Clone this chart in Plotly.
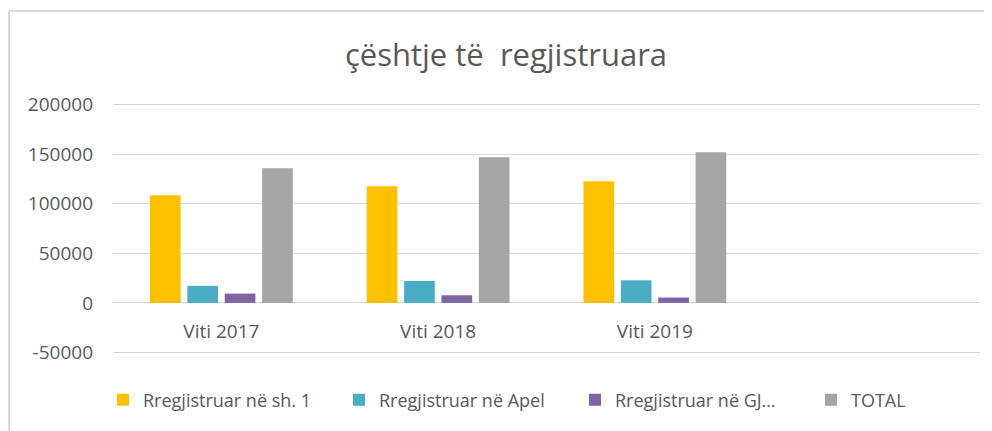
import plotly.graph_objects as go

categories = ["Viti 2017", "Viti 2018", "Viti 2019"]
series_names = ["Rregjistruar në sh. 1", "Rregjistruar në Apel", "Rregjistruar në GJ…", "TOTAL"]
sh1 = [108500, 117500, 122700]
apel = [17200, 22100, 22800]
gjl = [9400, 7700, 5400]
total = [135800, 146900, 151900]
colors = ["#FFC000", "#4BACC6", "#8064A2", "#A5A5A5"]
y_ticks = [-50000, 0, 50000, 100000, 150000, 200000]
y_tick_labels = ["-50000", "0", "50000", "100000", "150000", "200000"]
y_range = [-51500, 201500]

FONT = "'Open Sans', Lato, sans-serif"
TXT = "#595959"

W, H = 992, 431
ML, MR, MT, MB = 105, 20, 95, 85
PW, PH = W - ML - MR, H - MT - MB

fig = go.Figure()
for name, vals, col in zip(series_names, [sh1, apel, gjl, total], colors):
    fig.add_trace(go.Bar(x=categories, y=vals, name=name, marker=dict(color=col, line=dict(width=0))))

fig.update_layout(
    width=W, height=H,
    margin=dict(l=ML, r=MR, t=MT, b=MB, autoexpand=False),
    paper_bgcolor="white", plot_bgcolor="white",
    barmode="group", bargap=0.31, bargroupgap=0.18,
    font=dict(family=FONT, color=TXT, size=16),
    title=dict(text="çështje të\u00a0 regjistruara", x=498/W, xref="container", xanchor="center",
               y=1-47/H, yref="container", yanchor="middle",
               font=dict(family=FONT, size=31, color=TXT)),
    legend=dict(orientation="h", x=-10/PW, xref="paper", xanchor="left",
                y=(PH-(392-MT))/PH, yanchor="middle", entrywidth=191, entrywidthmode="pixels",
                font=dict(family=FONT, size=18, color=TXT), traceorder="normal"),
    showlegend=True,
)
fig.update_yaxes(range=y_range, tickvals=y_ticks, ticktext=y_tick_labels,
                 showgrid=True, gridcolor="#D9D9D9", gridwidth=1, zeroline=True,
                 zerolinecolor="#D9D9D9", zerolinewidth=1, showline=False, ticks="",
                 ticklabelstandoff=19, tickfont=dict(size=19, color=TXT, family=FONT))
fig.update_xaxes(type="category", categoryarray=categories, range=[-0.5, 3.5],
                 anchor="free", position=(0 - y_range[0]) / (y_range[1] - y_range[0]),
                 showline=False, ticks="", showgrid=False,
                 ticklabelstandoff=15, tickfont=dict(size=19, color=TXT, family=FONT))

# chart-area border (top and left edges visible in the reference)
ytop = (PH + MT - 3) / PH
xleft = (1 - ML) / PW
fig.add_shape(type="line", xref="paper", yref="paper", x0=xleft, x1=1.05,
              y0=ytop, y1=ytop, line=dict(color="#D9D9D9", width=2))
fig.add_shape(type="line", xref="paper", yref="paper", x0=xleft, x1=xleft,
              y0=-0.5, y1=ytop, line=dict(color="#D9D9D9", width=2))

fig.write_html("out.html")
